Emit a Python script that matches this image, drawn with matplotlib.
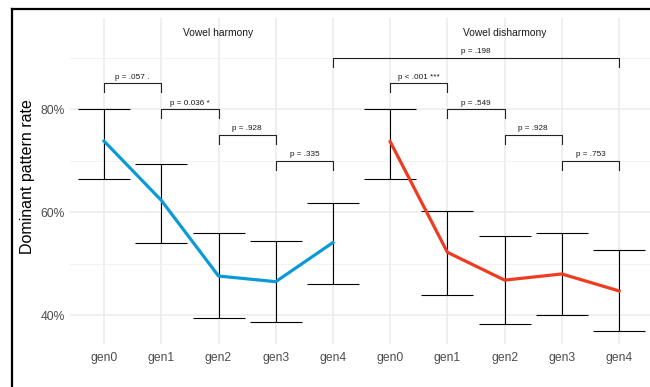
import matplotlib.pyplot as plt
from matplotlib.lines import Line2D

# data (percent)
gens = ["gen0", "gen1", "gen2", "gen3", "gen4"]
harmony_mean = [73.8, 62.3, 47.6, 46.5, 54.1]
harmony_low = [66.4, 54.0, 39.5, 38.7, 46.1]
harmony_high = [80.0, 69.3, 56.0, 54.4, 61.7]
disharmony_mean = [73.7, 52.2, 46.8, 48.0, 44.7]
disharmony_low = [66.4, 43.9, 38.3, 40.0, 37.0]
disharmony_high = [80.0, 60.3, 55.4, 55.9, 52.6]

# comparison brackets: (from position, to position, height, label)
brackets = [
    (1, 2, 85, "p = .057 ."),
    (2, 3, 80, "p = 0.036 *"),
    (3, 4, 75, "p = .928"),
    (4, 5, 70, "p = .335"),
    (6, 7, 85, "p < .001 ***"),
    (7, 8, 80, "p = .549"),
    (8, 9, 75, "p = .928"),
    (9, 10, 70, "p = .753"),
    (5, 10, 90, "p = .198"),
]

plt.rcParams["font.family"] = ["Liberation Sans", "DejaVu Sans"]

fig = plt.figure(figsize=(6.5, 3.87), dpi=100)
ax = fig.add_axes([70 / 650, 43 / 387, 580 / 650, 326 / 387])

x_h = [1, 2, 3, 4, 5]
x_d = [6, 7, 8, 9, 10]

for xs, mean, low, high, color in [
    (x_h, harmony_mean, harmony_low, harmony_high, "#0a9ad7"),
    (x_d, disharmony_mean, disharmony_low, disharmony_high, "#ef3b22"),
]:
    yerr = [[m - l for m, l in zip(mean, low)], [h - m for m, h in zip(mean, high)]]
    ax.errorbar(xs, mean, yerr=yerr, fmt="none", ecolor="black",
                elinewidth=0.8, capsize=18.5, capthick=0.8, zorder=3)
    ax.plot(xs, mean, color=color, linewidth=2.3, zorder=4)

# significance brackets
tick = 1.75
for x1, x2, y, label in brackets:
    ax.plot([x1, x1, x2, x2], [y - tick, y, y, y - tick],
            color="#222222", linewidth=0.8, zorder=3)
    ax.text((x1 + x2) / 2, y + 0.5, label, ha="center", va="bottom",
            fontsize=5.9, color="#1a1a1a")

# group titles
ax.text(3, 94.8, "Vowel harmony", ha="center", va="center",
        fontsize=7.4, color="#1a1a1a")
ax.text(8, 94.8, "Vowel disharmony", ha="center", va="center",
        fontsize=7.4, color="#1a1a1a")

ax.set_xlim(0.405, 10.54)
ax.set_ylim(34.4, 97.7)
ax.set_xticks(x_h + x_d)
ax.set_xticklabels(gens + gens)
ax.set_yticks([40, 60, 80])
ax.set_yticklabels(["40%", "60%", "80%"])
ax.set_yticks([50, 70, 90], minor=True)
ax.tick_params(axis="both", which="both", length=0, labelsize=8.7,
               labelcolor="#4d4d4d")
ax.tick_params(axis="x", pad=5.5)
ax.tick_params(axis="y", pad=4)
ax.grid(True, which="major", color="#ebebeb", linewidth=1.1)
ax.grid(True, which="minor", axis="y", color="#f2f2f2", linewidth=0.7)
ax.set_axisbelow(True)
for s in ax.spines.values():
    s.set_visible(False)

fig.text(28 / 650, 1 - 177 / 387, "Dominant pattern rate", rotation=90,
         ha="center", va="center", fontsize=11.5, color="black")

# outer frame (top and left edges visible in the crop)
fig.add_artist(Line2D([12 / 650, 1], [1 - 9 / 387, 1 - 9 / 387],
                      transform=fig.transFigure, color="black", linewidth=1.6))
fig.add_artist(Line2D([12 / 650, 12 / 650], [0, 1 - 9 / 387],
                      transform=fig.transFigure, color="black", linewidth=1.6))

fig.savefig("out.png", dpi=100)
